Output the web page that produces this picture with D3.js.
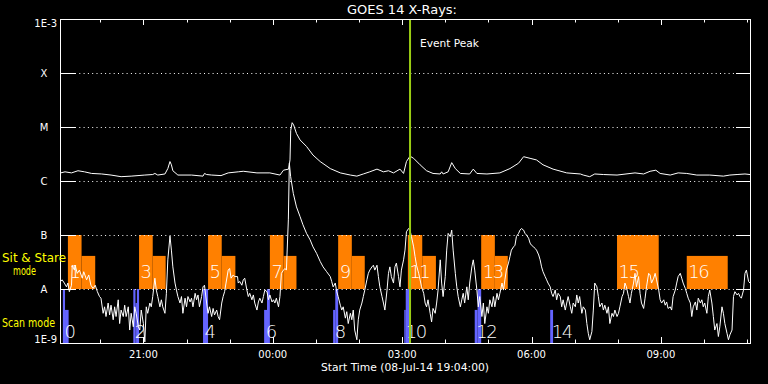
<!DOCTYPE html>
<html>
<head>
<meta charset="utf-8">
<script src="https://cdn.jsdelivr.net/npm/d3@7"></script>
<style>
body { margin: 0; background: #000; }
svg { display: block; }
text { font-family: "DejaVu Sans", sans-serif; fill: #fff; }
</style>
</head>
<body>
<div id="chart"></div>
<script>
// start of the plot: 08-Jul-14 19:04:00, 16 hours shown
var START = Date.UTC(2014, 6, 8, 19, 4);
var SPAN = 960; // minutes

var fluxTicks = [1e-9, 1e-8, 1e-7, 1e-6, 1e-5, 1e-4, 1e-3];
var fluxLabels = ["1E-9", "A", "B", "C", "M", "X", "1E-3"];

// GOES 14 long channel, [minutes after start, log10 flux]
var longChannel = [[1,-5.85],[7,-5.83],[16,-5.85],[25,-5.81],[34,-5.83],[44,-5.86],[58,-5.87],[71,-5.89],[85,-5.92],[99,-5.91],
  [118,-5.89],[129,-5.88],[132,-5.86],[136,-5.89],[146,-5.87],[150,-5.77],[153,-5.64],[155,-5.70],[157,-5.81],[164,-5.89],
  [183,-5.89],[199,-5.91],[201,-5.86],[204,-5.88],[211,-5.89],[224,-5.90],[234,-5.85],[248,-5.83],[255,-5.82],[274,-5.85],
  [292,-5.85],[306,-5.89],[311,-5.80],[318,-5.78],[320,-5.61],[321,-5.06],[323,-4.92],[325,-4.96],[329,-5.12],[334,-5.24],
  [343,-5.36],[352,-5.52],[362,-5.64],[376,-5.77],[390,-5.85],[404,-5.89],[413,-5.91],[422,-5.87],[431,-5.83],[441,-5.78],
  [450,-5.83],[457,-5.81],[464,-5.85],[473,-5.78],[478,-5.86],[482,-5.64],[487,-5.54],[492,-5.58],[501,-5.70],[510,-5.81],
  [519,-5.86],[529,-5.87],[531,-5.83],[533,-5.87],[540,-5.83],[545,-5.66],[550,-5.77],[557,-5.86],[570,-5.87],[575,-5.78],
  [580,-5.86],[594,-5.87],[612,-5.85],[626,-5.77],[638,-5.67],[645,-5.55],[654,-5.58],[663,-5.61],[672,-5.70],[686,-5.78],
  [705,-5.85],[724,-5.87],[728,-5.89],[737,-5.92],[744,-5.87],[756,-5.88],[775,-5.89],[800,-5.85],[812,-5.87],[821,-5.82],
  [829,-5.80],[835,-5.86],[849,-5.89],[860,-5.85],[872,-5.86],[886,-5.89],[904,-5.89],[923,-5.91],[932,-5.89],[942,-5.88],
  [953,-5.87],[960,-5.88]];

// GOES 14 short channel, [minutes after start, log10 flux]
var shortChannel = [[1,-7.86],[3,-7.83],[6,-7.89],[9,-7.96],[11,-7.89],[13,-8.05],[16,-7.93],[17,-7.56],[20,-7.65],[21,-7.56],
  [24,-7.71],[27,-7.65],[31,-7.80],[33,-7.68],[37,-7.83],[40,-7.74],[43,-7.93],[46,-7.99],[49,-7.93],[52,-8.05],
  [55,-8.14],[57,-8.17],[60,-8.45],[62,-8.33],[64,-8.51],[67,-8.26],[69,-8.48],[71,-8.30],[74,-8.57],[76,-8.33],
  [78,-8.51],[81,-8.20],[83,-8.64],[85,-8.39],[88,-8.51],[90,-8.30],[92,-8.51],[95,-8.33],[97,-8.76],[99,-8.45],
  [102,-8.70],[104,-8.33],[106,-8.45],[109,-8.70],[111,-8.76],[113,-8.39],[116,-8.64],[118,-8.98],[120,-8.33],[122,-8.45],
  [125,-8.26],[127,-8.33],[129,-8.14],[132,-7.80],[134,-8.02],[136,-8.14],[139,-8.33],[141,-8.20],[143,-8.33],[146,-8.45],
  [148,-8.08],[150,-7.46],[153,-7.02],[155,-7.28],[157,-7.59],[160,-7.89],[162,-8.02],[164,-8.14],[167,-8.26],[169,-8.14],
  [171,-8.45],[174,-8.17],[176,-8.33],[178,-8.14],[181,-8.24],[183,-8.17],[185,-8.33],[188,-8.08],[190,-8.20],[192,-8.11],
  [194,-8.33],[197,-8.14],[199,-7.96],[201,-7.93],[204,-8.26],[206,-8.45],[208,-8.33],[211,-8.51],[213,-8.36],[215,-8.48],
  [218,-8.39],[220,-8.51],[222,-8.57],[225,-8.26],[227,-8.14],[229,-8.05],[231,-7.89],[234,-7.65],[236,-7.62],[238,-7.80],
  [241,-7.74],[243,-7.77],[247,-7.77],[248,-7.89],[250,-7.86],[253,-7.93],[255,-7.83],[257,-7.80],[260,-8.02],[262,-8.14],
  [264,-8.08],[267,-8.20],[269,-8.11],[271,-8.26],[274,-8.39],[276,-8.24],[278,-8.17],[281,-8.26],[283,-8.14],[285,-8.02],
  [288,-8.05],[290,-8.20],[292,-8.11],[295,-8.24],[297,-8.20],[299,-8.26],[301,-8.17],[304,-8.33],[306,-8.14],[308,-7.71],
  [311,-7.65],[313,-7.62],[315,-7.65],[317.7,-6.72],[319.1,-5.67],[320.9,-5.92],[324.6,-6.23],[329,-6.48],[334,-6.66],[338,-6.81],
  [343,-6.97],[348,-7.09],[352,-7.22],[357,-7.34],[362,-7.49],[366,-7.59],[371,-7.68],[376,-7.77],[378,-7.86],[380,-7.96],
  [383,-7.89],[385,-8.05],[387,-8.14],[390,-8.30],[392,-8.39],[394,-8.33],[397,-8.54],[399,-8.42],[401,-8.64],[404,-8.45],
  [406,-8.57],[408,-8.39],[410,-8.76],[413,-8.94],[415,-8.57],[417,-8.39],[420,-8.26],[422,-8.14],[424,-8.02],[427,-7.83],
  [429,-7.71],[431,-7.65],[434,-7.59],[436,-7.56],[438,-7.65],[441,-7.56],[443,-7.77],[445,-7.96],[448,-8.14],[450,-8.26],
  [452,-8.39],[455,-8.02],[457,-7.71],[459,-7.59],[461,-7.77],[464,-7.89],[466,-7.59],[468,-7.52],[471,-7.77],[473,-7.96],
  [475,-7.65],[478,-7.46],[480,-7.28],[482,-6.94],[485,-6.88],[487,-6.91],[489,-7.03],[492,-7.22],[494,-7.40],[496,-7.56],
  [499,-7.71],[501,-7.83],[503,-7.96],[506,-8.08],[508,-8.26],[510,-8.33],[512,-8.20],[515,-8.45],[517,-8.61],[519,-8.36],
  [522,-8.45],[524,-8.26],[526,-8.02],[529,-7.46],[531,-7.89],[533,-8.14],[536,-7.77],[538,-7.28],[540,-6.97],[543,-7.03],
  [545,-6.91],[547,-7.28],[550,-7.71],[552,-7.96],[554,-8.14],[557,-8.33],[559,-8.20],[561,-8.08],[563,-8.26],[566,-7.96],
  [568,-8.20],[570,-7.89],[573,-7.59],[575,-7.46],[577,-7.65],[580,-8.02],[582,-8.33],[584,-8.14],[587,-8.51],[589,-8.26],
  [591,-8.64],[594,-8.33],[596,-8.45],[598,-8.20],[601,-8.33],[603,-8.14],[605,-8.33],[608,-8.08],[610,-8.20],[612,-8.08],
  [615,-7.89],[617,-8.02],[619,-7.83],[621,-7.65],[624,-7.52],[626,-7.40],[628,-7.28],[631,-7.22],[633,-7.19],[635,-7.03],
  [638,-6.97],[640,-6.91],[642,-6.88],[645,-6.91],[647,-6.97],[649,-7.00],[652,-7.06],[654,-7.15],[656,-7.19],[659,-7.22],
  [661,-7.25],[663,-7.28],[666,-7.37],[668,-7.46],[670,-7.59],[672,-7.68],[675,-7.77],[677,-7.83],[679,-7.89],[682,-7.96],
  [684,-8.08],[686,-8.14],[689,-8.02],[691,-8.20],[693,-8.08],[696,-8.14],[698,-8.33],[700,-8.20],[703,-8.39],[705,-8.26],
  [707,-8.14],[710,-8.33],[712,-8.45],[714,-8.26],[717,-8.33],[719,-8.11],[721,-8.26],[723,-8.14],[726,-8.45],[728,-8.33],
  [731,-8.39],[733,-8.64],[735,-8.82],[737,-8.94],[740,-8.79],[742,-8.39],[744,-7.89],[747,-7.96],[749,-8.14],[751,-8.33],
  [754,-8.26],[756,-8.39],[758,-8.30],[761,-8.45],[763,-8.33],[765,-8.64],[768,-8.45],[770,-8.51],[772,-8.39],[775,-8.51],
  [777,-8.45],[779,-8.33],[782,-8.14],[784,-8.08],[786,-7.89],[788,-7.96],[791,-8.14],[793,-8.26],[795,-8.08],[798,-7.89],
  [800,-7.71],[802,-7.96],[805,-7.77],[807,-8.08],[809,-8.26],[812,-8.36],[814,-8.17],[816,-7.96],[819,-7.71],[821,-7.74],
  [823,-7.89],[826,-7.80],[828,-7.71],[830,-7.83],[833,-8.02],[835,-8.20],[837,-8.26],[840,-8.20],[842,-8.30],[844,-8.24],
  [846,-8.36],[849,-8.33],[851,-8.39],[853,-8.14],[856,-8.02],[858,-7.89],[860,-7.77],[863,-7.71],[865,-7.80],[867,-7.89],
  [870,-7.99],[872,-8.08],[874,-8.17],[877,-8.26],[879,-8.51],[881,-8.33],[884,-8.24],[886,-8.39],[888,-8.17],[891,-8.26],
  [893,-8.20],[895,-8.33],[897,-8.26],[900,-8.45],[902,-8.14],[904,-8.02],[907,-8.26],[909,-8.51],[911,-8.76],[914,-8.64],
  [916,-8.88],[918,-8.70],[921,-8.33],[923,-8.45],[925,-8.64],[928,-8.82],[930,-8.94],[932,-8.85],[935,-8.76],[937,-8.14],
  [939,-8.05],[942,-8.11],[944,-8.08],[946,-8.14],[948,-8.17],[951,-8.02],[953,-7.71],[955,-7.65],[958,-7.86],[960,-7.89]];

// sit & stare observations: high part t0-t1, low part t1-t2 (minutes after start)
var sitStare = [
  {n: 1, t0: 11, t1: 30, t2: 49},
  {n: 3, t0: 110, t1: 129, t2: 147},
  {n: 5, t0: 206, t1: 225, t2: 244},
  {n: 7, t0: 292, t1: 311, t2: 329},
  {n: 9, t0: 387, t1: 406, t2: 424},
  {n: 11, t0: 484, t1: 504, t2: 523},
  {n: 13, t0: 586, t1: 605, t2: 623},
  {n: 15, t0: 775, t1: 833, t2: 833},
  {n: 16, t0: 872, t1: 872, t2: 929}
];
var stareHigh = 1e-7, stareLow = 4.1e-8;

// scan mode observations: pieces [start, end, top flux]
var scanMode = [
  {n: 0, parts: [[4, 7, 1e-8], [7, 12, 4.1e-9]]},
  {n: 2, parts: [[102, 105, 1e-8], [105, 107, 5.5e-9], [107, 110, 1e-8]]},
  {n: 4, parts: [[199, 206, 1e-8]]},
  {n: 6, parts: [[284, 288, 4.1e-9], [288, 292, 1e-8]]},
  {n: 8, parts: [[380, 383, 4.1e-9], [383, 387, 1e-8]]},
  {n: 10, parts: [[479, 481, 4.1e-9], [481, 487, 1e-8]]},
  {n: 12, parts: [[577, 581, 4.1e-9], [581, 586, 1e-8]]},
  {n: 14, parts: [[682, 686, 4.1e-9]]}
];

var eventPeak = 487;

function tm(m) { return new Date(START + m * 60000); }

var W = 768, H = 384;
var padL = 60, padR = 750, padT = 19, padB = 343;

var svg = d3.select("#chart").append("svg")
    .attr("width", W)
    .attr("height", H);

svg.append("rect").attr("width", W).attr("height", H).attr("fill", "#000");

var x = d3.scaleUtc()
    .domain([tm(0), tm(SPAN)])
    .range([padL, padR]);

var y = d3.scaleLog()
    .domain([1e-9, 1e-3])
    .range([padB, padT]);

// orange sit & stare blocks
sitStare.forEach(function(d) {
    if (d.t1 > d.t0) {
        svg.append("rect")
            .attr("x", x(tm(d.t0))).attr("y", y(stareHigh))
            .attr("width", x(tm(d.t1)) - x(tm(d.t0)))
            .attr("height", y(1e-8) - y(stareHigh))
            .attr("fill", "#ff8000");
    }
    if (d.t2 > d.t1) {
        svg.append("rect")
            .attr("x", x(tm(d.t1))).attr("y", y(stareLow))
            .attr("width", x(tm(d.t2)) - x(tm(d.t1)))
            .attr("height", y(1e-8) - y(stareLow))
            .attr("fill", "#ff8000");
    }
});

// blue scan bars
scanMode.forEach(function(d) {
    d.parts.forEach(function(p) {
        svg.append("rect")
            .attr("x", x(tm(p[0]))).attr("y", y(p[2]))
            .attr("width", x(tm(p[1])) - x(tm(p[0])))
            .attr("height", y(1e-9) - y(p[2]))
            .attr("fill", "#6464ff");
    });
});

// dotted grid lines at each class
var inner = fluxTicks.slice(1, -1);
svg.selectAll(".grid")
    .data(inner)
    .enter()
    .append("line")
    .attr("x1", padL + 15).attr("x2", padR - 14)
    .attr("y1", d => Math.round(y(d)) + 0.5)
    .attr("y2", d => Math.round(y(d)) + 0.5)
    .attr("stroke", "#fff")
    .attr("stroke-dasharray", "1,3.3");

// the two curves
var line = d3.line()
    .x(d => x(tm(d[0])))
    .y(d => y(Math.pow(10, d[1])));

svg.append("path").datum(longChannel)
    .attr("d", line).attr("fill", "none")
    .attr("stroke", "#fff").attr("stroke-width", 1);

svg.append("path").datum(shortChannel)
    .attr("d", line).attr("fill", "none")
    .attr("stroke", "#fff").attr("stroke-width", 1);

// observation numbers (thin strokes like the plot's vector font)
var numFont = 'Lato, "Liberation Sans Narrow", sans-serif';
svg.selectAll(".stareNum")
    .data(sitStare)
    .enter()
    .append("text")
    .attr("x", d => x(tm(d.t0)) + 1.5)
    .attr("y", y(1e-8) - 11)
    .attr("font-family", numFont)
    .attr("font-weight", 300)
    .attr("font-size", 18)
    .attr("letter-spacing", -1.5)
    .text(d => d.n);

svg.selectAll(".scanNum")
    .data(scanMode)
    .enter()
    .append("text")
    .attr("x", d => x(tm(d.parts[0][0])) + 1.5)
    .attr("y", y(1e-9) - 5)
    .attr("font-family", numFont)
    .attr("font-weight", 300)
    .attr("font-size", 18)
    .attr("letter-spacing", -1.5)
    .text(d => d.n);

// event peak line
svg.append("line")
    .attr("x1", x(tm(eventPeak))).attr("x2", x(tm(eventPeak)))
    .attr("y1", padT).attr("y2", padB)
    .attr("stroke", "#9acd14").attr("stroke-width", 2);

svg.append("text")
    .attr("x", x(tm(eventPeak)) + 10)
    .attr("y", 47)
    .attr("font-size", 10.5)
    .attr("textLength", 59)
    .attr("lengthAdjust", "spacingAndGlyphs")
    .text("Event Peak");

// frame
svg.append("rect")
    .attr("x", padL + 0.5).attr("y", padT + 0.5)
    .attr("width", padR - padL).attr("height", padB - padT)
    .attr("fill", "none").attr("stroke", "#fff");

// y ticks, both sides
inner.forEach(function(d) {
    var yy = Math.round(y(d)) + 0.5;
    svg.append("line").attr("x1", padL).attr("x2", padL + 15)
        .attr("y1", yy).attr("y2", yy).attr("stroke", "#fff");
    svg.append("line").attr("x1", padR - 14).attr("x2", padR)
        .attr("y1", yy).attr("y2", yy).attr("stroke", "#fff");
});

var last = fluxTicks.length - 1;
svg.selectAll(".ylab")
    .data(fluxTicks)
    .enter()
    .append("text")
    .attr("x", (d, i) => (i == 0 || i == last) ? 57 : 44)
    .attr("y", (d, i) => i == 0 ? y(d) : (i == last ? y(d) + 8 : y(d) + 4))
    .attr("text-anchor", (d, i) => (i == 0 || i == last) ? "end" : "middle")
    .attr("font-size", 10)
    .text((d, i) => fluxLabels[i]);

// x ticks, hourly, longer every 3 hours
var hours = x.ticks(d3.utcHour.every(1));
hours.forEach(function(t) {
    var xx = Math.round(x(t)) + 0.5;
    var len = t.getUTCHours() % 3 == 0 ? 6 : 3.5;
    svg.append("line").attr("x1", xx).attr("x2", xx)
        .attr("y1", padT).attr("y2", padT + len).attr("stroke", "#fff");
    svg.append("line").attr("x1", xx).attr("x2", xx)
        .attr("y1", padB).attr("y2", padB - len).attr("stroke", "#fff");
});

svg.selectAll(".xlab")
    .data(x.ticks(d3.utcHour.every(3)))
    .enter()
    .append("text")
    .attr("x", d => x(d))
    .attr("y", 358)
    .attr("text-anchor", "middle")
    .attr("font-size", 10)
    .text(d => d3.utcFormat("%H:%M")(d));

svg.append("text")
    .attr("x", (padL + padR) / 2)
    .attr("y", 371)
    .attr("text-anchor", "middle")
    .attr("font-size", 10)
    .attr("textLength", 168)
    .attr("lengthAdjust", "spacingAndGlyphs")
    .text("Start Time (08-Jul-14 19:04:00)");

svg.append("text")
    .attr("x", 402)
    .attr("y", 14)
    .attr("text-anchor", "middle")
    .attr("font-size", 12)
    .attr("textLength", 110)
    .attr("lengthAdjust", "spacingAndGlyphs")
    .text("GOES 14 X-Rays:");

// mode labels on the left
svg.append("text").attr("x", 2).attr("y", 262).attr("font-size", 11.5)
    .attr("textLength", 64).attr("lengthAdjust", "spacingAndGlyphs")
    .style("fill", "#ffff00").text("Sit & Stare");
svg.append("text").attr("x", 13).attr("y", 275).attr("font-size", 11.5)
    .attr("textLength", 23).attr("lengthAdjust", "spacingAndGlyphs")
    .style("fill", "#ffff00").text("mode");
svg.append("text").attr("x", 2).attr("y", 327).attr("font-size", 11.5)
    .attr("textLength", 53).attr("lengthAdjust", "spacingAndGlyphs")
    .style("fill", "#ffff00").text("Scan mode");
</script>
</body>
</html>
